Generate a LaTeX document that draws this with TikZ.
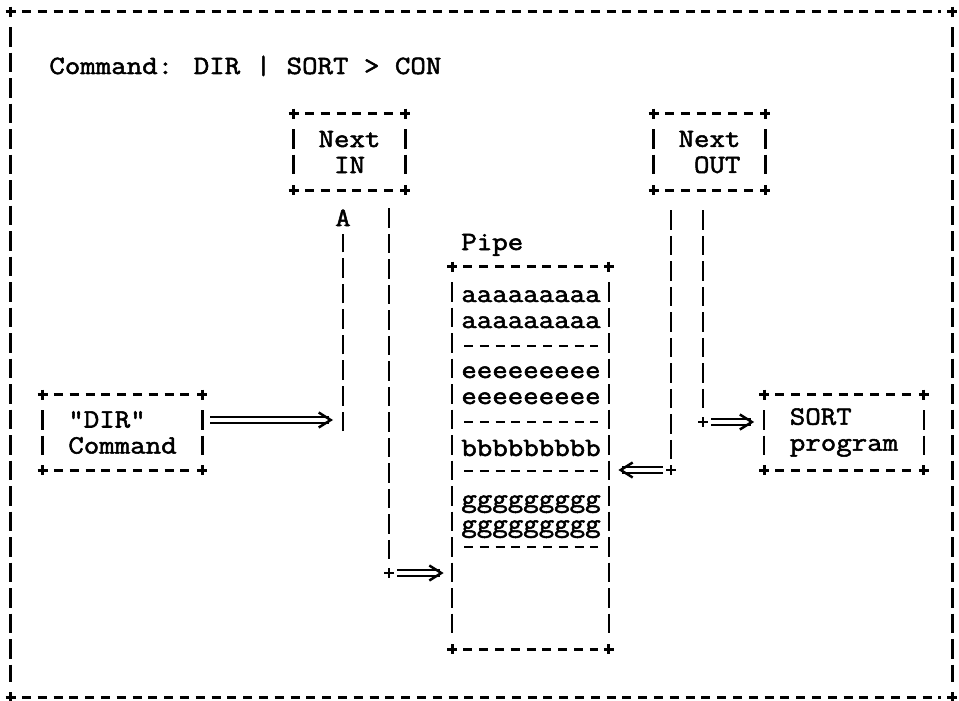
\documentclass[tikz,border=0pt]{standalone}
\usepackage{fontspec}
\newfontfamily\asciifont[FakeStretch=1.14,FakeBold=2]{Latin Modern Mono}
\usetikzlibrary{positioning,arrows.meta,calc}

% dashed ascii box round a named node, with + at the corners
\newcommand\asciibox[1]{%
  \draw[hbar] (#1.north west) -- (#1.north east);
  \draw[hbar] (#1.south west) -- (#1.south east);
  \draw[vbar] (#1.north west) -- (#1.south west);
  \draw[vbar] (#1.north east) -- (#1.south east);
  \foreach \c in {north west,north east,south west,south east}
    \pic at (#1.\c) {crs};
}

\begin{document}
\begin{tikzpicture}[
  x=0.2mm, y=-0.2mm,
  every node/.style={font=\asciifont\fontsize{15}{14.8}\selectfont, inner sep=0pt},
  nbox/.style={minimum width=22.2mm, minimum height=15.2mm},
  cbox/.style={minimum width=31.8mm, minimum height=15mm},
  hbar/.style={line width=1.45pt, dash pattern=on 1.8mm off 1.36mm,
               shorten <=2.26mm, shorten >=2.26mm},
  vbar/.style={line width=1.45pt, dash pattern=on 3.9mm off 1.2mm,
               shorten <=3.1mm, shorten >=3.1mm},
  rail/.style={line width=1.45pt, dash pattern=on 3.9mm off 1.2mm},
  dblarr/.style={double, double distance=0.7mm, line width=1.1pt,
                 -{Straight Barb[length=2.4mm,width=3mm,line width=1.4pt]}},
  crs/.pic={\draw[line width=1.6pt] (-5,0) -- (5,0) (0,-5) -- (0,5);}
]
  \useasboundingbox (0,0) rectangle (959,701);

  % frame
  \node[minimum width=188.2mm, minimum height=137mm] (frame) at (481.5,354.5) {};
  \asciibox{frame}
  \node[anchor=base west] (title) at (49,74) {Command: DIR | SORT > CON};

  % boxes
  \node[nbox, align=center] (nextin)  at (349.5,152) {Next\\IN};
  \node[nbox, align=right]  (nextout) at (709.5,152) {Next\\OUT};
  \node[cbox, align=left]   (dircmd)  at (122.5,432.5) {"DIR"\\Command};
  \node[cbox, align=left]   (sortprog) at (844,432.5) {SORT\\program};
  \node[minimum width=31.2mm, minimum height=76.4mm] (pipe) at (530.5,458) {};
  \node[anchor=base west] (pipelbl) at (461,250) {Pipe};
  \asciibox{nextin}
  \asciibox{nextout}
  \asciibox{dircmd}
  \asciibox{sortprog}
  \asciibox{pipe}

  % pipe contents
  \foreach \t/\y [count=\i] in {aaaaaaaaa/302, aaaaaaaaa/328, eeeeeeeee/378,
      eeeeeeeee/404, bbbbbbbbb/456, ggggggggg/507, ggggggggg/532}
    \node[anchor=base] (row\i) at (531,\y) {\t};
  \foreach \y in {346,422,471,547}
    \draw[hbar, shorten <=0pt, shorten >=0pt] (464,\y) -- (598,\y);

  % DIR writes through Next IN
  \coordinate (inA) at (343,420);
  \node[anchor=base] (upA) at (343,226) {A};
  \draw[dblarr, shorten <=1.6mm, shorten >=2mm] (dircmd.east |- inA) -- (inA);
  \draw[rail, shorten >=1.6mm] ([yshift=-2.2mm]inA) -- (upA.south);

  \coordinate (inB) at (389,573);
  \draw[rail, shorten <=3.6mm, shorten >=1.6mm] (nextin.south -| inB) -- (inB);
  \pic at (inB) {crs};
  \draw[dblarr, shorten <=1.6mm, shorten >=1.7mm] (inB) -- (inB -| pipe.west);

  % SORT reads through Next OUT
  \coordinate (outL) at (671,470);
  \draw[rail, shorten <=4mm, shorten >=1.6mm] (nextout.south -| outL) -- (outL);
  \pic at (outL) {crs};
  \draw[dblarr, shorten <=1.6mm, shorten >=1.9mm] (outL) -- (outL -| pipe.east);

  \coordinate (outR) at (703,422);
  \draw[rail, shorten <=4mm, shorten >=1.6mm] (nextout.south -| outR) -- (outR);
  \pic at (outR) {crs};
  \draw[dblarr, shorten <=1.6mm, shorten >=2mm] (outR) -- (outR -| sortprog.west);
\end{tikzpicture}
\end{document}
